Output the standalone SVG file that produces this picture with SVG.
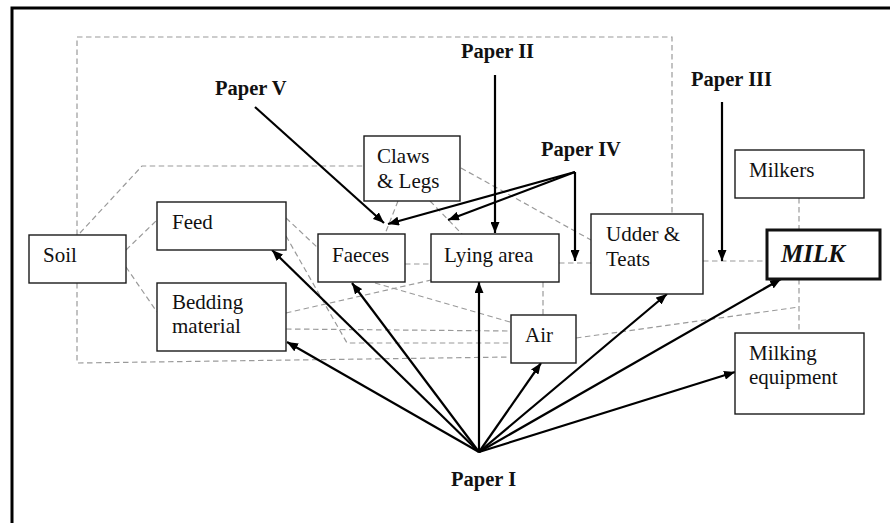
<svg xmlns="http://www.w3.org/2000/svg" width="890" height="523" viewBox="0 0 890 523">
<style>
.box{fill:#fff;stroke:#1a1a1a;stroke-width:1.4}
.milk{fill:#fff;stroke:#111;stroke-width:3}
.t{font-family:"Liberation Serif","Times New Roman",serif;font-size:21px;fill:#111}
.p{font-family:"Liberation Serif","Times New Roman",serif;font-size:20.5px;font-weight:bold;fill:#111}
.mt{font-family:"Liberation Serif","Times New Roman",serif;font-size:25px;font-weight:bold;font-style:italic;fill:#111}
.d{fill:none;stroke:#9a9a9a;stroke-width:1.2;stroke-dasharray:5.5 3.5}
.a{fill:none;stroke:#000;stroke-width:2.2;marker-end:url(#ah)}
</style>
<defs>
<marker id="ah" markerUnits="userSpaceOnUse" markerWidth="12" markerHeight="9" refX="11" refY="4.5" orient="auto">
<path d="M0,0 L11,4.5 L0,9 z" fill="#000"/>
</marker>
</defs>
<rect width="890" height="523" fill="#fff"/>
<path d="M12,523 V8 H890" fill="none" stroke="#000" stroke-width="3"/>

<g id="connectors">
<g id="dashed">
<path class="d" d="M77,235 V37 H672 V214"/>
<path class="d" d="M77,283 V363 L510,357"/>
<path class="d" d="M80,233 L142,166 H364"/>
<path class="d" d="M126,250 L157,220"/>
<path class="d" d="M126,267 L157,312"/>
<path class="d" d="M286,218 L318,248"/>
<path class="d" d="M286,236 L347,343 H510"/>
<path class="d" d="M398,201 L385,234"/>
<path class="d" d="M430,201 L462,234"/>
<path class="d" d="M461,168 L591,240"/>
<path class="d" d="M405,264 H431"/>
<path class="d" d="M559,263 H591"/>
<path class="d" d="M703,261 H767"/>
<path class="d" d="M799,198 V230"/>
<path class="d" d="M799,279 V333"/>
<path class="d" d="M576,338 L799,307"/>
<path class="d" d="M543,282 V315"/>
<path class="d" d="M286,313 L431,280"/>
<path class="d" d="M286,329 L510,331"/>
<path class="d" d="M375,283 L510,322"/>
</g>
<g id="arrows">
<path class="a" d="M255,107 L384,223"/>
<path class="a" d="M575,172 L388,224"/>
<path class="a" d="M575,172 L448,220"/>
<path class="a" d="M575,172 L575,261"/>
<path class="a" d="M495,75 L495,233"/>
<path class="a" d="M722,102 L722,261"/>
<path class="a" d="M479,452 L272,250"/>
<path class="a" d="M479,452 L287,342"/>
<path class="a" d="M479,452 L352,283"/>
<path class="a" d="M479,452 L479,282"/>
<path class="a" d="M479,452 L541,363"/>
<path class="a" d="M479,452 L667,294"/>
<path class="a" d="M479,452 L781,279"/>
<path class="a" d="M479,452 L735,372"/>
</g>
</g>

<g id="soil"><rect class="box" x="29" y="235" width="97" height="48"/><text class="t" x="43" y="262">Soil</text></g>
<g id="feed"><rect class="box" x="157" y="202" width="129" height="48"/><text class="t" x="172" y="229">Feed</text></g>
<g id="bedding"><rect class="box" x="157" y="283" width="129" height="68"/><text class="t" x="172" y="309">Bedding</text><text class="t" x="172" y="333">material</text></g>
<g id="claws"><rect class="box" x="364" y="136" width="96" height="65"/><text class="t" x="377" y="163">Claws</text><text class="t" x="377" y="188">&amp; Legs</text></g>
<g id="faeces"><rect class="box" x="318" y="234" width="87" height="48"/><text class="t" x="332" y="262">Faeces</text></g>
<g id="lying"><rect class="box" x="431" y="234" width="128" height="48"/><text class="t" x="444" y="262">Lying area</text></g>
<g id="air"><rect class="box" x="511" y="315" width="65" height="48"/><text class="t" x="525" y="342">Air</text></g>
<g id="udder"><rect class="box" x="591" y="214" width="112" height="80"/><text class="t" x="606" y="241">Udder &amp;</text><text class="t" x="606" y="266">Teats</text></g>
<g id="milkers"><rect class="box" x="735" y="150" width="129" height="48"/><text class="t" x="749" y="177">Milkers</text></g>
<g id="milk"><rect class="milk" x="767" y="230" width="113" height="49"/><text class="mt" x="781" y="262">MILK</text></g>
<g id="equipment"><rect class="box" x="735" y="333" width="129" height="81"/><text class="t" x="749" y="360">Milking</text><text class="t" x="749" y="384">equipment</text></g>

<g id="labels">
<text class="p" x="215" y="95">Paper V</text>
<text class="p" x="461" y="58">Paper II</text>
<text class="p" x="691" y="86">Paper III</text>
<text class="p" x="541" y="156">Paper IV</text>
<text class="p" x="451" y="486">Paper I</text>
</g>
</svg>
